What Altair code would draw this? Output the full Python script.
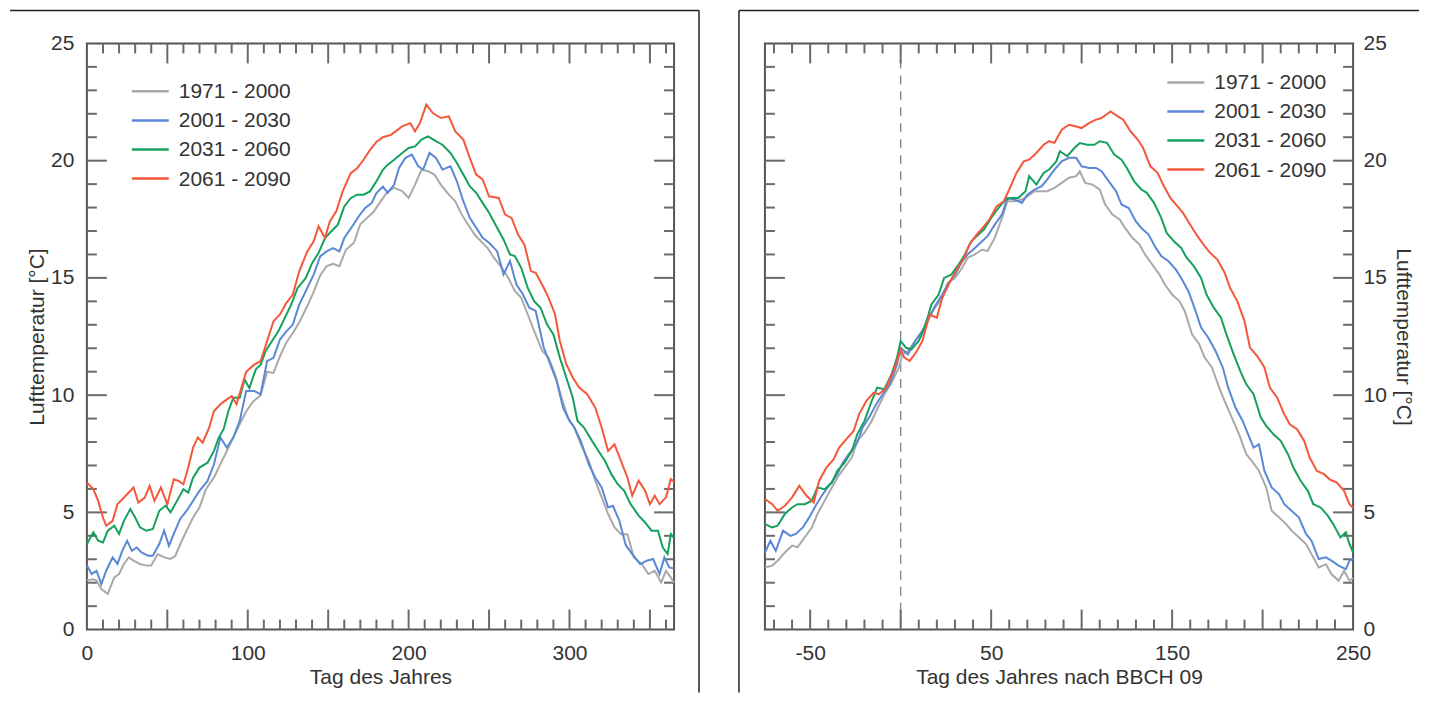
import altair as alt
import pandas as pd

SERIES = ["1971 - 2000", "2001 - 2030", "2031 - 2060", "2061 - 2090"]
COLORS = ["#a9a9a9", "#5a88d6", "#15a05c", "#f5573b"]

# ---------------- left panel: Tag des Jahres ----------------
L_GRAY_DAY = [0, 4, 6, 9, 13, 17, 20, 23, 26, 29, 33, 37, 40, 44, 48, 52, 55, 59, 62, 66,
              70, 74, 79, 83, 87, 91, 95, 99, 103, 108, 112, 116, 120, 124, 128, 132, 137, 141, 145, 149,
              153, 157, 161, 166, 170, 174, 178, 182, 185, 187, 191, 196, 200, 204, 208, 212, 216, 220, 225, 229,
              233, 237, 241, 245, 249, 253, 258, 262, 266, 270, 274, 278, 283, 287, 291, 295, 299, 303, 307, 312,
              316, 320, 324, 328, 332, 336, 340, 345, 349, 353, 357, 360, 363, 365]
L_GRAY_T = [2.1, 2.15, 2.09, 1.73, 1.52, 2.23, 2.37, 2.8, 3.08, 2.94, 2.8, 2.73, 2.73, 3.22, 3.08, 3.01, 3.15, 3.79, 4.22, 4.78,
            5.21, 5.99, 6.49, 7.06, 7.62, 8.19, 8.76, 9.3, 9.7, 10.0, 11.0, 10.95, 11.65, 12.25, 12.65, 13.1, 13.8, 14.4, 15.1, 15.5,
            15.6, 15.5, 16.2, 16.5, 17.3, 17.55, 17.8, 18.2, 18.5, 18.7, 18.84, 18.7, 18.41, 18.98, 19.62, 19.55, 19.41, 18.98, 18.55, 18.27,
            17.7, 17.27, 16.85, 16.56, 16.28, 15.86, 15.43, 15.0, 14.44, 14.15, 13.45, 12.74, 11.89, 11.6, 10.89, 9.9, 9.05, 8.62, 7.9, 7.2,
            6.35, 5.64, 4.93, 4.36, 4.07, 4.07, 3.08, 2.79, 2.37, 2.51, 2.01, 2.51, 2.22, 2.0]

L_BLUE_DAY = [0, 3, 6, 9, 12, 16, 19, 22, 25, 28, 31, 34, 38, 41, 45, 48, 51, 54, 58, 62,
              66, 70, 75, 79, 83, 87, 91, 95, 99, 104, 108, 112, 116, 120, 124, 128, 132, 137, 141, 145,
              149, 153, 157, 160, 165, 169, 173, 177, 180, 184, 187, 191, 194, 198, 202, 206, 209, 213, 217, 221,
              226, 230, 234, 238, 242, 246, 250, 255, 259, 263, 267, 271, 275, 279, 284, 288, 292, 296, 300, 303,
              307, 312, 316, 320, 324, 327, 331, 335, 339, 344, 348, 352, 356, 359, 362, 365]
L_BLUE_T = [2.73, 2.37, 2.51, 1.94, 2.51, 3.08, 2.8, 3.36, 3.79, 3.36, 3.5, 3.29, 3.15, 3.15, 3.65, 4.22, 3.57, 4.08, 4.72, 5.07,
            5.49, 5.92, 6.34, 7.05, 8.19, 7.76, 8.19, 8.9, 10.18, 10.18, 10.04, 11.45, 11.59, 12.37, 12.72, 13.01, 13.86, 14.57, 15.14, 15.92,
            16.13, 16.27, 16.13, 16.7, 17.2, 17.63, 17.98, 18.19, 18.62, 18.9, 18.63, 18.98, 19.69, 20.12, 20.26, 19.76, 19.62, 20.33, 20.12, 19.62,
            19.76, 19.12, 18.27, 17.56, 17.14, 16.71, 16.5, 16.14, 15.15, 15.72, 14.72, 14.3, 13.73, 13.59, 12.03, 11.32, 10.61, 9.47, 8.9, 8.62,
            8.05, 7.05, 6.49, 6.06, 5.21, 5.28, 4.64, 3.6, 3.22, 2.79, 2.94, 3.01, 2.37, 3.08, 2.65, 2.6]

L_GREEN_DAY = [0, 4, 7, 10, 13, 17, 20, 23, 27, 30, 33, 37, 41, 45, 49, 52, 56, 60, 63, 66,
               70, 75, 79, 82, 85, 88, 91, 95, 98, 101, 105, 108, 111, 115, 119, 123, 127, 131, 136, 140,
               144, 148, 152, 156, 160, 164, 168, 172, 176, 180, 184, 187, 191, 196, 200, 204, 208, 212, 217, 221,
               226, 230, 234, 238, 242, 246, 250, 255, 259, 263, 266, 270, 274, 278, 282, 286, 290, 294, 298, 302,
               305, 309, 314, 318, 322, 326, 330, 334, 338, 343, 347, 351, 355, 358, 361, 363, 365]
L_GREEN_T = [3.65, 4.15, 3.79, 3.72, 4.22, 4.43, 4.08, 4.64, 5.14, 4.78, 4.36, 4.22, 4.29, 5.07, 5.29, 5.0, 5.49, 5.99, 5.84, 6.48,
             6.91, 7.12, 7.62, 8.19, 8.55, 9.32, 9.89, 9.89, 10.67, 10.3, 11.1, 11.3, 11.87, 12.3, 12.72, 13.29, 13.86, 14.57, 14.99, 15.63,
             16.06, 16.7, 16.99, 17.27, 18.05, 18.4, 18.55, 18.55, 18.69, 19.12, 19.61, 19.83, 20.04, 20.33, 20.54, 20.61, 20.9, 21.04, 20.83, 20.68,
             20.33, 19.9, 19.41, 18.91, 18.63, 18.2, 17.78, 17.14, 16.64, 16.0, 15.93, 15.43, 14.58, 14.01, 13.73, 13.02, 12.59, 11.6, 10.75, 9.9,
             8.9, 8.62, 8.05, 7.62, 7.2, 6.63, 6.2, 5.92, 5.35, 4.86, 4.57, 4.22, 4.22, 3.5, 3.22, 4.07, 3.9]

L_RED_DAY = [0, 4, 7, 10, 12, 16, 19, 22, 25, 29, 32, 36, 39, 42, 46, 50, 54, 57, 60, 63,
             66, 69, 72, 76, 79, 83, 87, 90, 93, 96, 99, 104, 108, 112, 116, 120, 124, 128, 132, 137,
             141, 144, 148, 151, 155, 159, 164, 168, 172, 176, 180, 184, 189, 196, 201, 204, 207, 211, 215, 220,
             225, 229, 234, 238, 242, 246, 250, 256, 260, 264, 268, 272, 276, 279, 284, 287, 291, 294, 298, 302,
             306, 311, 316, 320, 324, 328, 332, 336, 339, 343, 347, 350, 353, 356, 360, 363, 365]
L_RED_T = [6.27, 5.99, 5.49, 4.78, 4.43, 4.64, 5.35, 5.56, 5.77, 6.06, 5.42, 5.63, 6.13, 5.49, 6.06, 5.35, 6.41, 6.34, 6.2, 6.91,
           7.76, 8.19, 7.97, 8.61, 9.32, 9.61, 9.82, 9.96, 9.61, 10.3, 11.0, 11.3, 11.45, 12.3, 13.15, 13.44, 13.93, 14.29, 15.28, 16.13,
           16.56, 17.2, 16.7, 17.41, 17.84, 18.69, 19.47, 19.68, 20.04, 20.46, 20.8, 21.0, 21.1, 21.46, 21.6, 21.25, 21.6, 22.39, 22.03, 21.82,
           21.89, 21.25, 20.9, 20.12, 19.41, 19.2, 18.48, 18.41, 17.7, 17.56, 16.85, 16.42, 15.29, 15.22, 14.58, 14.15, 13.45, 12.31, 11.32, 10.75,
           10.32, 10.04, 9.47, 8.62, 7.62, 7.9, 7.2, 6.49, 5.71, 6.35, 5.92, 5.35, 5.71, 5.35, 5.64, 6.42, 6.3]

# ---------------- right panel: Tag des Jahres nach BBCH 09 ----------------
R_GRAY_DAY = [-75, -71, -68, -64, -60, -57, -53, -49, -46, -42, -38, -35, -31, -27, -24, -20, -16, -13, -9, -5,
              -1, 1, 4, 8, 12, 15, 19, 23, 26, 30, 34, 37, 41, 45, 48, 52, 56, 59, 63, 67,
              70, 74, 78, 81, 85, 89, 93, 97, 99, 102, 106, 110, 113, 117, 121, 124, 128, 132, 135, 139,
              143, 146, 150, 154, 157, 161, 165, 168, 172, 176, 179, 183, 187, 191, 194, 198, 202, 205, 209, 213,
              216, 220, 224, 227, 231, 235, 238, 242, 245, 248, 250]
R_GRAY_T = [2.65, 2.73, 2.94, 3.29, 3.58, 3.51, 3.94, 4.36, 4.93, 5.5, 6.06, 6.48, 6.91, 7.34, 8.05, 8.4, 8.9, 9.4, 10.04, 10.53,
            11.17, 11.74, 11.88, 12.31, 12.74, 13.3, 13.73, 14.15, 14.79, 15.0, 15.43, 15.86, 16.0, 16.21, 16.14, 16.71, 17.56, 18.27, 18.27, 18.34,
            18.48, 18.7, 18.7, 18.7, 18.84, 19.05, 19.27, 19.34, 19.55, 19.05, 18.98, 18.77, 18.13, 17.7, 17.49, 17.13, 16.71, 16.42, 16.0, 15.57,
            15.14, 14.72, 14.29, 14.01, 13.58, 12.59, 12.17, 11.6, 11.18, 10.32, 9.75, 9.04, 8.33, 7.48, 7.2, 6.77, 6.06, 5.07, 4.79, 4.5,
            4.22, 3.94, 3.65, 3.22, 2.65, 2.79, 2.37, 2.08, 2.51, 2.08, 2.2]

R_BLUE_DAY = [-75, -72, -69, -65, -61, -58, -54, -50, -47, -43, -39, -35, -32, -28, -24, -21, -17, -13, -10, -6,
              -2, 0, 4, 8, 12, 15, 19, 23, 26, 30, 34, 37, 41, 45, 48, 52, 56, 59, 63, 67,
              70, 74, 78, 81, 85, 89, 93, 97, 100, 104, 108, 111, 115, 119, 122, 126, 130, 133, 137, 141,
              144, 148, 152, 155, 159, 163, 166, 170, 174, 178, 181, 185, 189, 192, 195, 198, 201, 205, 209, 212,
              216, 220, 224, 227, 231, 235, 238, 242, 246, 248, 250]
R_BLUE_T = [3.29, 3.79, 3.36, 4.22, 4.0, 4.08, 4.36, 4.86, 5.28, 5.78, 6.2, 6.63, 7.12, 7.55, 7.98, 8.62, 9.11, 9.68, 10.04, 10.46,
            11.32, 12.02, 11.74, 12.31, 12.74, 13.16, 13.8, 14.29, 14.72, 15.14, 15.71, 16.0, 16.28, 16.56, 16.78, 17.27, 17.7, 18.41, 18.34, 18.2,
            18.55, 18.77, 18.91, 19.2, 19.62, 19.97, 20.12, 20.12, 19.76, 19.69, 19.69, 19.55, 19.12, 18.7, 18.13, 17.98, 17.41, 17.13, 16.85, 16.28,
            15.93, 15.71, 15.36, 15.0, 14.43, 13.58, 12.88, 12.45, 11.88, 11.18, 10.32, 9.47, 8.9, 8.33, 7.76, 7.9, 6.77, 6.06, 5.78, 5.35,
            5.07, 4.79, 4.08, 3.79, 3.01, 3.08, 2.94, 2.73, 2.58, 2.94, 3.0]

R_GREEN_DAY = [-75, -71, -68, -64, -60, -57, -53, -49, -46, -42, -38, -35, -31, -27, -24, -20, -16, -13, -9, -5,
               -2, 0, 3, 6, 10, 13, 17, 21, 24, 28, 32, 35, 39, 43, 46, 50, 54, 58, 61, 65,
               69, 71, 75, 79, 82, 86, 88, 92, 96, 99, 103, 107, 110, 114, 118, 122, 125, 129, 133, 136,
               140, 144, 147, 151, 155, 158, 162, 166, 169, 173, 177, 180, 184, 188, 191, 195, 199, 202, 206, 210,
               214, 217, 221, 225, 228, 232, 236, 239, 243, 246, 248, 250]
R_GREEN_T = [4.5, 4.36, 4.43, 4.93, 5.21, 5.35, 5.35, 5.5, 6.06, 5.99, 6.27, 6.77, 7.12, 7.62, 8.33, 8.9, 9.75, 10.32, 10.25, 10.89,
             11.6, 12.31, 12.02, 11.95, 12.31, 12.81, 13.87, 14.29, 15.0, 15.14, 15.57, 15.93, 16.56, 16.85, 17.06, 17.56, 17.98, 18.34, 18.41, 18.41,
             18.7, 19.34, 18.98, 19.48, 19.62, 19.97, 20.4, 20.19, 20.54, 20.75, 20.68, 20.68, 20.83, 20.76, 20.26, 20.04, 19.69, 19.12, 18.77, 18.63,
             18.2, 17.56, 16.92, 16.56, 16.28, 15.86, 15.5, 15.0, 14.29, 13.73, 13.3, 12.59, 11.74, 10.96, 10.46, 10.04, 9.04, 8.69, 8.33, 8.05,
             7.48, 6.91, 6.35, 5.92, 5.35, 5.21, 4.86, 4.5, 3.93, 4.15, 3.65, 3.3]

R_RED_DAY = [-75, -71, -68, -64, -60, -56, -52, -48, -45, -41, -37, -34, -30, -26, -23, -19, -15, -12, -8, -4,
             0, 2, 5, 9, 12, 16, 20, 23, 27, 31, 35, 38, 42, 46, 49, 53, 57, 60, 64, 68,
             71, 75, 79, 82, 85, 89, 93, 97, 100, 104, 108, 111, 116, 120, 123, 127, 131, 134, 138, 142,
             145, 149, 153, 156, 160, 164, 168, 171, 175, 179, 182, 186, 190, 193, 197, 201, 204, 208, 212, 215,
             219, 223, 226, 230, 234, 237, 241, 245, 248, 250]
R_RED_T = [5.57, 5.35, 5.07, 5.28, 5.64, 6.13, 5.71, 5.42, 6.35, 6.91, 7.27, 7.76, 8.12, 8.47, 9.18, 9.75, 10.1, 10.04, 10.32, 11.03,
           11.95, 11.6, 11.46, 11.88, 12.31, 13.44, 13.3, 14.15, 14.79, 15.36, 15.85, 16.42, 16.85, 17.2, 17.49, 18.05, 18.27, 18.77, 19.48, 19.97,
           20.04, 20.33, 20.68, 20.83, 20.76, 21.32, 21.53, 21.46, 21.39, 21.6, 21.75, 21.82, 22.1, 21.89, 21.75, 21.25, 20.9, 20.54, 19.76, 19.48,
           18.98, 18.41, 18.05, 17.77, 17.27, 16.78, 16.35, 16.07, 15.78, 15.22, 14.58, 14.01, 13.16, 12.03, 11.67, 11.18, 10.32, 9.9, 9.18, 8.76,
           8.55, 8.05, 7.34, 6.77, 6.63, 6.41, 6.27, 5.92, 5.35, 5.2]

Y_LABELS = [0, 5, 10, 15, 20, 25]
L_X_LABELS = [0, 100, 200, 300]
R_X_LABELS = [-50, 50, 150, 250]

FONT = "Liberation Sans"
TXT = "#333333"
TICK = "#6a6a6a"
H = 587
MINOR, MAJOR = 10, 20
ROW = 29.1
HYPHEN_LABEL = "datum.value < 0 ? '-' + format(abs(datum.value), 'd') : datum.label"


def long_df(days_list, temps_list):
    rows = []
    for name, days, temps in zip(SERIES, days_list, temps_list):
        for d, t in zip(days, temps):
            rows.append({"series": name, "day": d, "temp": t})
    return pd.DataFrame(rows)


def panel(df, width, xdom, xvals, xtitle, yorient, xticks, legend_x, legend_y, box, dashed=False):
    xs = alt.Scale(domain=xdom, nice=False, zero=False)
    ys = alt.Scale(domain=[0, 25], nice=False, zero=False)
    xaxis = alt.Axis(values=xvals, title=xtitle, grid=False, ticks=False, tickSize=0,
                     domain=False, labelFlush=False, labelPadding=13, titlePadding=3,
                     labelExpr=HYPHEN_LABEL)
    if yorient == "left":
        yaxis = alt.Axis(orient="left", values=Y_LABELS, title="Lufttemperatur [°C]", grid=False,
                         ticks=False, tickSize=0, domain=False, labelFlush=False,
                         labelPadding=13, titlePadding=3)
    else:
        yaxis = alt.Axis(orient="right", values=Y_LABELS, title="Lufttemperatur [°C]", grid=False,
                         ticks=False, tickSize=0, domain=False, labelFlush=False,
                         labelPadding=10, titlePadding=6)

    def X():
        return alt.X("day:Q", scale=xs, axis=xaxis)

    def Y():
        return alt.Y("temp:Q", scale=ys, axis=yaxis)

    layers = []
    # outer figure box
    for (x1, x2, y1, y2) in box:
        layers.append(alt.Chart(pd.DataFrame({"k": [0]})).mark_rule(color="#222222", strokeWidth=1.5).encode(
            x=alt.value(x1), x2=alt.value(x2), y=alt.value(y1), y2=alt.value(y2)))
    if dashed:
        layers.append(alt.Chart(pd.DataFrame({"day": [0]})).mark_rule(
            color="#8f8f8f", strokeWidth=1.5, strokeDash=[9, 7]).encode(
            x=X(), y=alt.value(0), y2=alt.value(H)))
    # inward ticks on x
    minor_x = [v for v in xticks if v % 50 != 0]
    major_x = [v for v in xticks if v % 50 == 0]
    for vals, ln in [(minor_x, MINOR), (major_x, MAJOR)]:
        d = pd.DataFrame({"day": vals})
        layers.append(alt.Chart(d).mark_rule(color=TICK, strokeWidth=2).encode(
            x=X(), y=alt.value(H), y2=alt.value(H - ln)))
        layers.append(alt.Chart(d).mark_rule(color=TICK, strokeWidth=2).encode(
            x=X(), y=alt.value(0), y2=alt.value(ln)))
    # inward ticks on y
    minor_y = [v for v in range(1, 25) if v % 5 != 0]
    major_y = [v for v in range(5, 25, 5)]
    for vals, ln in [(minor_y, MINOR), (major_y, MAJOR)]:
        d = pd.DataFrame({"temp": vals})
        layers.append(alt.Chart(d).mark_rule(color=TICK, strokeWidth=2).encode(
            y=Y(), x=alt.value(0), x2=alt.value(ln)))
        layers.append(alt.Chart(d).mark_rule(color=TICK, strokeWidth=2).encode(
            y=Y(), x=alt.value(width - ln), x2=alt.value(width)))
    # data lines
    layers.append(alt.Chart(df).mark_line(strokeWidth=2).encode(
        x=X(), y=Y(),
        color=alt.Color("series:N", scale=alt.Scale(domain=SERIES, range=COLORS), legend=None)))
    # legend
    for i, (name, col) in enumerate(zip(SERIES, COLORS)):
        yy = legend_y + i * ROW
        d = pd.DataFrame({"series": [name]})
        layers.append(alt.Chart(d).mark_rule(color=col, strokeWidth=2.5).encode(
            x=alt.value(legend_x), x2=alt.value(legend_x + 37), y=alt.value(yy), y2=alt.value(yy)))
        layers.append(alt.Chart(d).mark_text(align="left", baseline="middle", fontSize=21,
                                             font=FONT, color=TXT).encode(
            x=alt.value(legend_x + 47), y=alt.value(yy + 1), text="series:N"))
    return alt.layer(*layers).properties(width=width, height=H)


left_df = long_df([L_GRAY_DAY, L_BLUE_DAY, L_GREEN_DAY, L_RED_DAY],
                  [L_GRAY_T, L_BLUE_T, L_GREEN_T, L_RED_T])
right_df = long_df([R_GRAY_DAY, R_BLUE_DAY, R_GREEN_DAY, R_RED_DAY],
                   [R_GRAY_T, R_BLUE_T, R_GREEN_T, R_RED_T])

left = panel(left_df, 588, [0, 365], L_X_LABELS, "Tag des Jahres", "left",
             list(range(10, 365, 10)), 45, 48,
             [(-77, 613, -33, -33), (613, 613, -33, 650)])
right = panel(right_df, 589, [-75, 250], R_X_LABELS, "Tag des Jahres nach BBCH 09", "right",
              list(range(-70, 250, 10)), 403, 39,
              [(-26, 655, -33, -33), (-26, -26, -33, 650)], dashed=True)

chart = alt.hconcat(left, right, spacing=91, bounds="flush", padding=0).configure_axis(
    labelFont=FONT, titleFont=FONT, labelFontSize=21, titleFontSize=21,
    labelColor=TXT, titleColor=TXT, titleFontWeight="normal"
).configure_view(stroke="#555555", strokeWidth=2)

chart.save("out.html", embed_options={"renderer": "svg", "actions": False})
